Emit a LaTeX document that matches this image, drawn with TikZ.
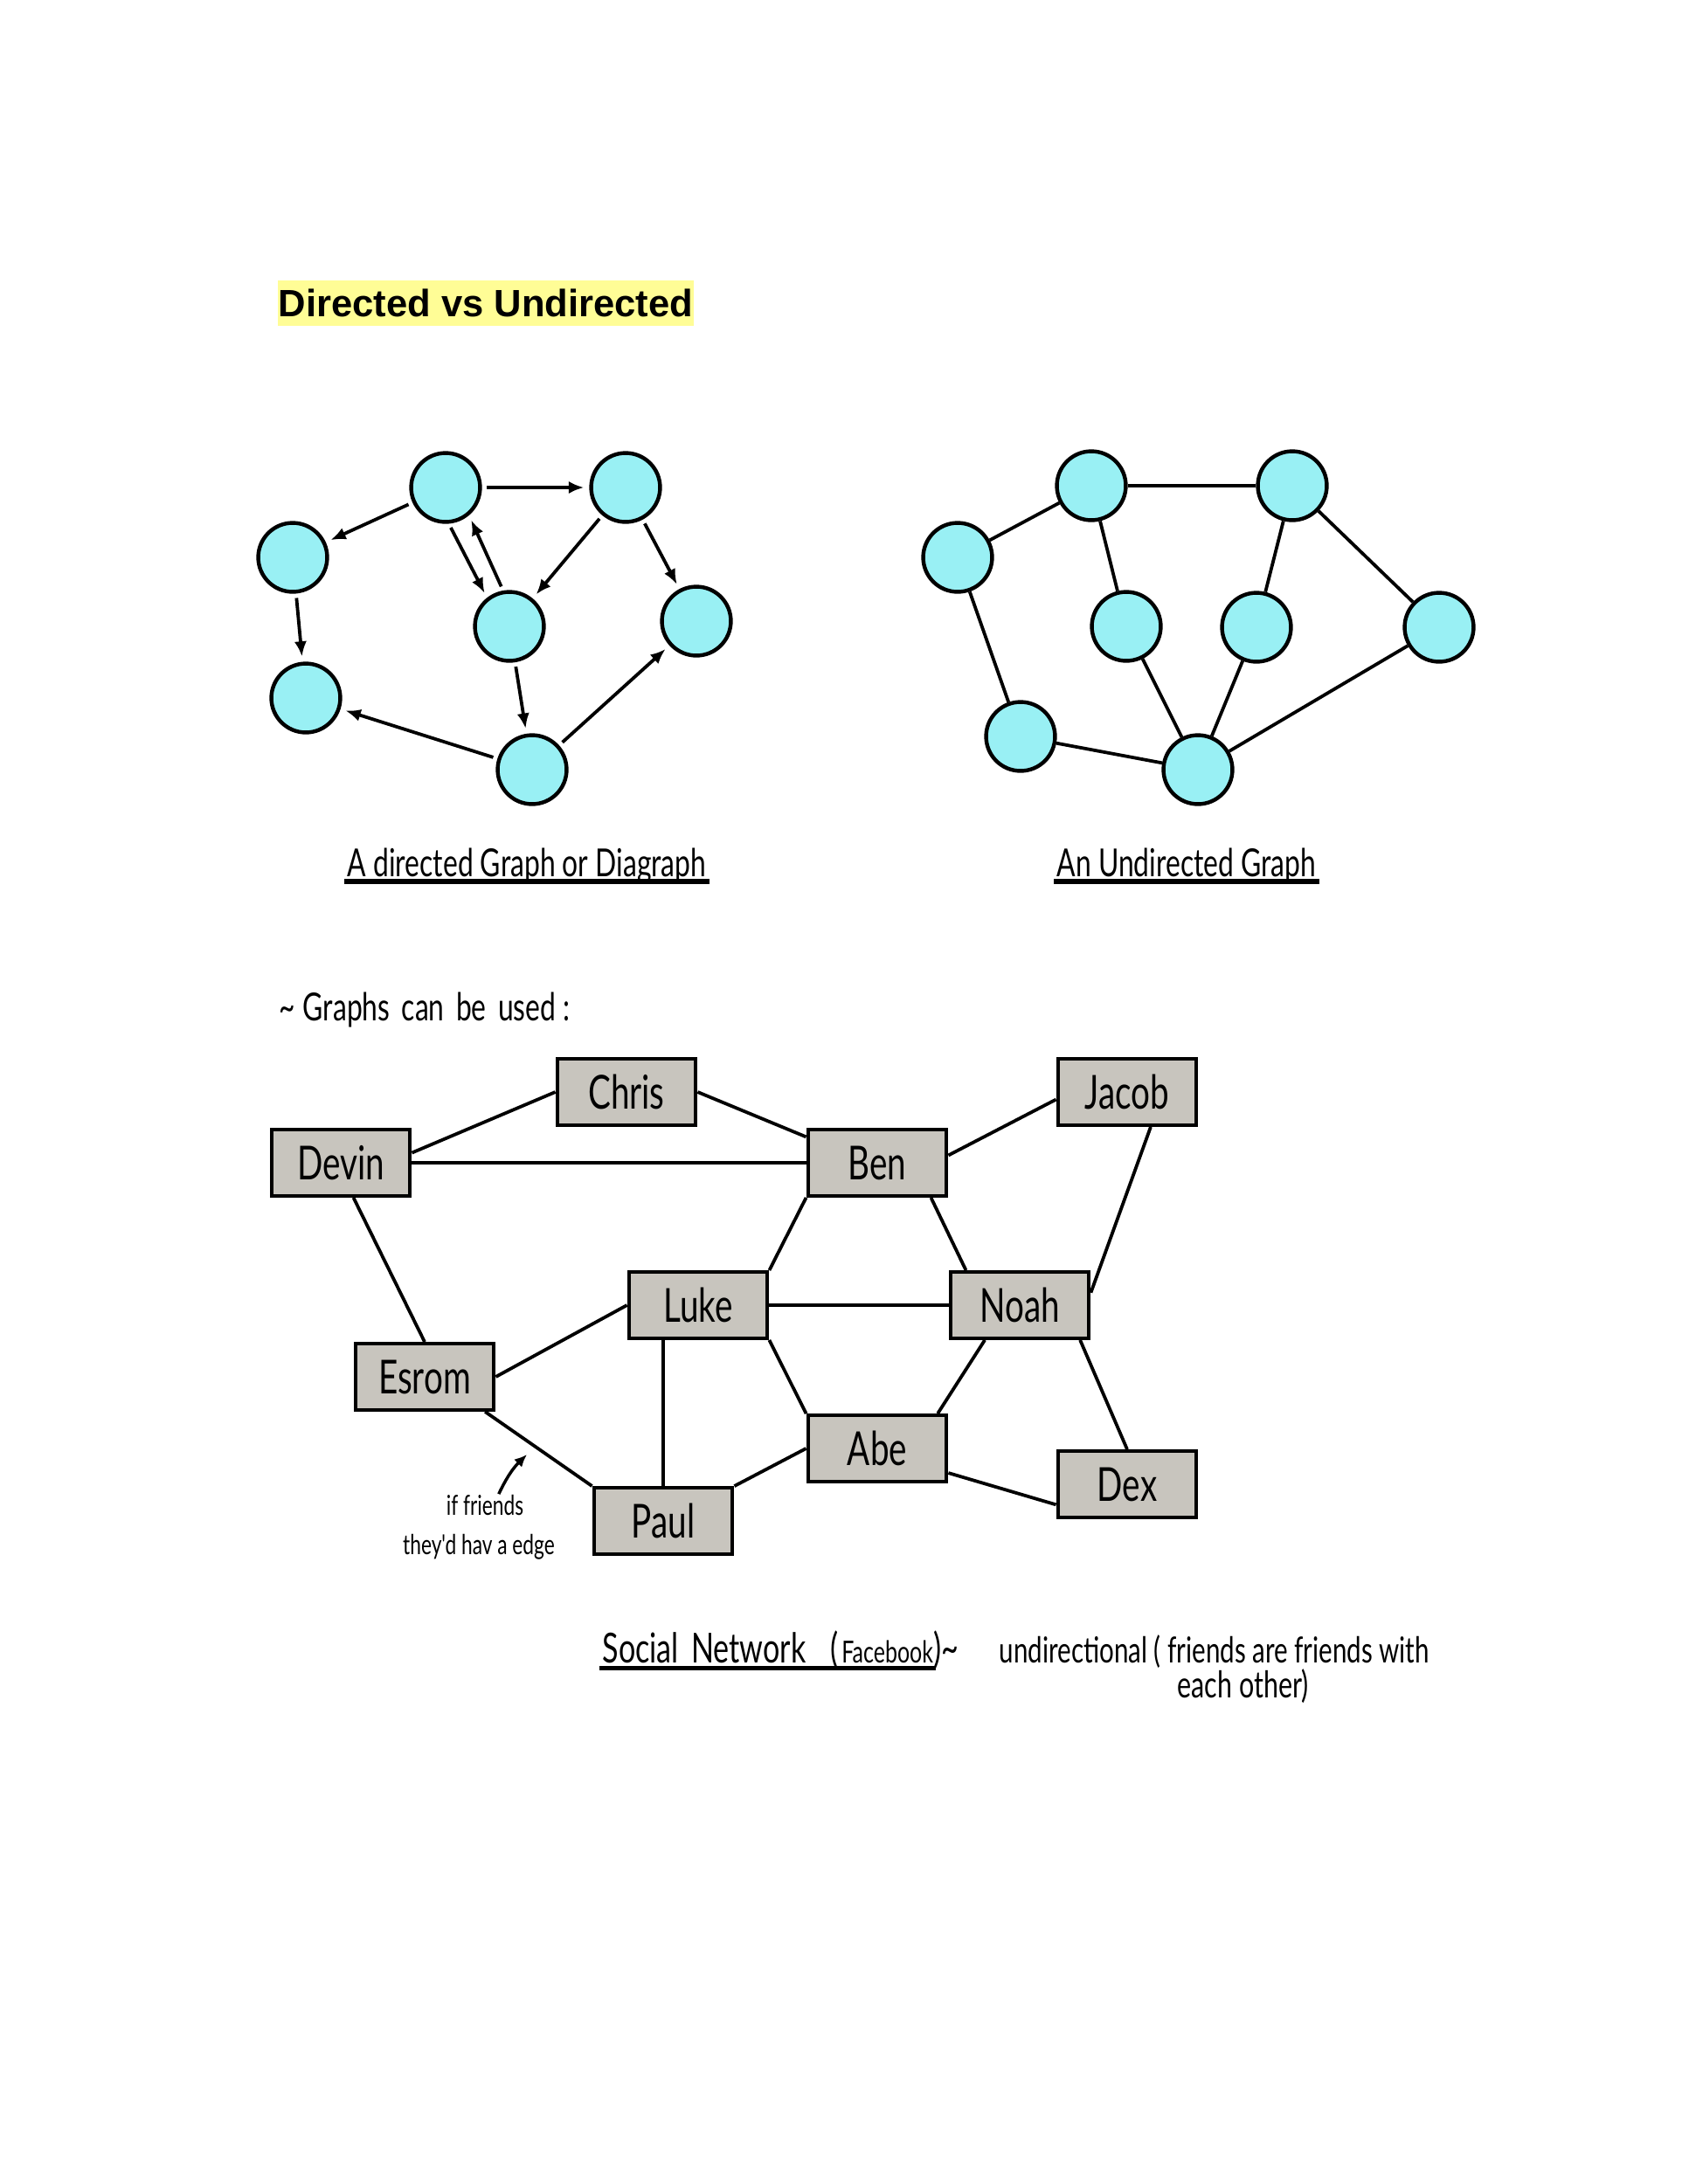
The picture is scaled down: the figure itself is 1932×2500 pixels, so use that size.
\documentclass[tikz,border=0pt]{standalone}
\usepackage{graphicx}
\usepackage{fontspec}
\setmainfont{Liberation Sans}
\newfontfamily\manofont{Lato}
\usetikzlibrary{arrows.meta}
\definecolor{Cian}{RGB}{153, 240, 244}
\definecolor{Gris}{RGB}{200, 197, 190}
\definecolor{Amarillo}{RGB}{255, 253, 150}
\newcommand{\mano}[1]{\scalebox{0.72}[1]{#1}}
\tikzset{
  circulo/.style={circle, draw, line width=1.4pt, fill=Cian, minimum size=25pt, inner sep=0pt},
  caja/.style={rectangle, draw, line width=1.3pt, fill=Gris, minimum width=50.3pt, minimum height=24pt, inner sep=0pt, font=\manofont\fontsize{17}{17}\selectfont},
  flecha/.style={-{Latex[length=5.5pt,width=4.5pt]}, line width=1.2pt, shorten <=1.6pt, shorten >=1.9pt},
  arista/.style={line width=1.2pt},
  letra/.style={inner sep=0pt, anchor=base, font=\manofont\fontsize{14}{14}\selectfont},
  subrayado/.style={line width=1.6pt}
}

\begin{document}
\begin{tikzpicture}[x=0.3168pt, y=-0.3168pt]
   	\useasboundingbox (0,0) rectangle (1932,2500);

	%Titulo
	\node[fill=Amarillo, minimum width=150.5pt, minimum height=16.2pt, inner sep=0pt, font=\bfseries\fontsize{13.8}{14}\selectfont] (titulo) at (556,347) {Directed vs Undirected};

	%Grafo dirigido
	\node[circulo] (a) at (510,558) {};
	\node[circulo] (b) at (716,558) {};
	\node[circulo] (c) at (335,638) {};
	\node[circulo] (d) at (583,717) {};
	\node[circulo] (e) at (797,711) {};
	\node[circulo] (f) at (350,799) {};
	\node[circulo] (g) at (609,881) {};
	\draw[flecha] (a) -- (b);
	\draw[flecha] (a) -- (c);
	\draw[flecha] (a.-85) -- (d.128);
	\draw[flecha] (d.100) -- (a.-50);
	\draw[flecha] (b) -- (d);
	\draw[flecha] (b) -- (e);
	\draw[flecha] (c) -- (f);
	\draw[flecha] (d) -- (g);
	\draw[flecha] (g) -- (f);
	\draw[flecha] (g) -- (e);

	%Grafo no dirigido
	\node[circulo] (u1) at (1249,556) {};
	\node[circulo] (u2) at (1479,556) {};
	\node[circulo] (u3) at (1096,638) {};
	\node[circulo] (u4) at (1289,717) {};
	\node[circulo] (u5) at (1438,718) {};
	\node[circulo] (u6) at (1647,718) {};
	\node[circulo] (u7) at (1168,843) {};
	\node[circulo] (u8) at (1371,881) {};
	\draw[arista] (u1) -- (u2);
	\draw[arista] (u1) -- (u3);
	\draw[arista] (u1) -- (u4);
	\draw[arista] (u2) -- (u5);
	\draw[arista] (u2) -- (u6);
	\draw[arista] (u3) -- (u7);
	\draw[arista] (u4) -- (u8);
	\draw[arista] (u5) -- (u8);
	\draw[arista] (u6) -- (u8);
	\draw[arista] (u7) -- (u8);

	%Leyendas
	\node[letra] (cap1) at (603,1003) {\mano{A directed Graph or Diagraph}};
	\draw[subrayado] ([xshift=-1pt,yshift=-1.9pt]cap1.base west) -- ([xshift=1pt,yshift=-1.9pt]cap1.base east);
	\node[letra] (cap2) at (1358,1003) {\mano{An Undirected Graph}};
	\draw[subrayado] ([xshift=-1pt,yshift=-1.9pt]cap2.base west) -- ([xshift=1pt,yshift=-1.9pt]cap2.base east);
	\node[letra, anchor=base west] (usos) at (319,1168) {\mano{\textasciitilde\;Graphs \,can \,be \,used :}};

	%Red social
	\node[caja] (chris) at (717,1250) {\mano{Chris}};
	\node[caja] (devin) at (390,1331) {\mano{Devin}};
	\node[caja] (ben) at (1004,1331) {\mano{Ben}};
	\node[caja] (jacob) at (1290,1250) {\mano{Jacob}};
	\node[caja] (luke) at (799,1494) {\mano{Luke}};
	\node[caja] (noah) at (1167,1494) {\mano{Noah}};
	\node[caja] (esrom) at (486,1576) {\mano{Esrom}};
	\node[caja] (abe) at (1004,1658) {\mano{Abe}};
	\node[caja] (dex) at (1290,1699) {\mano{Dex}};
	\node[caja] (paul) at (759,1741) {\mano{Paul}};

	\draw[arista] (devin.8) -- (chris.west);
	\draw[arista] (chris.east) -- (ben.160);
	\draw[arista] (devin.east) -- (ben.west);
	\draw[arista] (ben.6) -- (jacob.186);
	\draw[arista] (jacob.-56) -- (noah.10);
	\draw[arista] (ben.south west) -- (luke.north east);
	\draw[arista] (ben.-33) -- (noah.147);
	\draw[arista] (devin.-70) -- (esrom.north);
	\draw[arista] (esrom.east) -- (luke.west);
	\draw[arista] (luke.east) -- (noah.west);
	\draw[arista] (paul.north) -- (paul.north |- luke.south);
	\draw[arista] (luke.south east) -- (abe.north west);
	\draw[arista] (noah.-135) -- (abe.30);
	\draw[arista] (noah.-30) -- (dex.north);
	\draw[arista] (esrom.-30) -- (paul.north west);
	\draw[arista] (paul.north east) -- (abe.west);
	\draw[arista] (abe.-19) -- (dex.196);

	%Nota
	\node[letra, font=\manofont\fontsize{10}{10}\selectfont] (nota1) at (555,1734) {\mano{if friends}};
	\node[letra, font=\manofont\fontsize{10}{10}\selectfont] (nota2) at (548,1779) {\mano{they'd hav a edge}};
	\coordinate (punta) at (603,1665);
	\draw[-{Latex[length=4.5pt,width=4pt]}, line width=1.1pt] ([xshift=5pt]nota1.north) to[bend left=10] (punta);

	%Texto final
	\node[letra, anchor=base west, font=\manofont\fontsize{15}{15}\selectfont] (social) at (689,1903) {\mano{Social \,Network \;\;({\fontsize{11}{11}\selectfont\,Facebook})\textasciitilde}};
	\draw[subrayado] ([xshift=-1pt,yshift=-2.2pt]social.base west) -- ([xshift=-8.5pt,yshift=-2.2pt]social.base east);
	\node[letra, anchor=base west, font=\manofont\fontsize{13}{14}\selectfont] (undir) at (1143,1903) {\mano{undirectional ( friends are friends with}};
	\node[letra, anchor=base west, font=\manofont\fontsize{13.4}{14}\selectfont] (otro) at (1347,1943) {\mano{each other)}};
\end{tikzpicture}
\end{document}
